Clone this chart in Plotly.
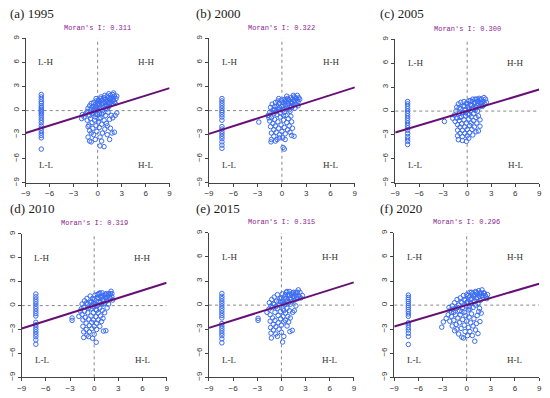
import plotly.graph_objects as go

# ---------------- data ----------------
years = ["1995", "2000", "2005", "2010", "2015", "2020"]
letters = ["a", "b", "c", "d", "e", "f"]
morans_i = [0.311, 0.322, 0.300, 0.319, 0.315, 0.296]
tick_vals = [-9, -6, -3, 0, 3, 6, 9]
quad_labels = ["L-H", "H-H", "L-L", "H-L"]
quad_x = [-6.5, 6.0, -6.5, 6.0]
quad_y = [6.0, 6.0, -6.8, -6.8]

# x position of the vertical column of isolated low-value units, per panel
column_x = [-7.05, -7.4, -7.45, -7.25, -7.4, -7.25]

column_y_1995 = [2.0, 1.7, 1.4, 1.1, 0.9, 0.6, 0.4, 0.2, 0.0, -0.2, -0.4, -0.6, -0.9, -1.2,
                 -1.5, -1.9, -2.2, -2.5, -2.8, -3.1, -3.4, -4.8]
column_y_2000 = [1.5, 1.2, 0.9, 0.6, 0.3, 0.0, -0.2, -0.5, -0.8, -1.2, -2.0, -2.3, -2.6, -2.9,
                 -3.2, -3.5, -3.9, -4.3, -4.7]
column_y_2005 = [1.2, 0.9, 0.6, 0.3, 0.0, -0.3, -0.6, -0.9, -1.2, -1.5, -1.8, -2.1, -2.4, -2.8,
                 -3.2, -3.5, -3.8, -4.2]
column_y_2010 = [1.45, 1.1, 0.8, 0.5, 0.2, -0.1, -0.4, -0.7, -1.0, -1.3, -2.1, -2.4, -2.7, -3.0,
                 -3.3, -3.6, -3.9, -4.3, -4.85]
column_y_2015 = [1.45, 1.1, 0.8, 0.5, 0.2, -0.1, -0.4, -0.7, -1.0, -1.3, -1.6, -2.3, -2.6, -2.9,
                 -3.2, -3.5, -3.8, -4.2, -4.7]
column_y_2020 = [1.25, 0.95, 0.7, 0.45, 0.2, -0.05, -0.3, -0.55, -0.8, -1.1, -1.4, -2.2, -2.5,
                 -2.8, -3.1, -3.5, -3.9, -4.9]

cloud_1995 = [(-1.5, -0.4), (-1.3, -0.1), (-1.2, 0.3), (-1.0, 0.6), (-1.0, -0.6), (-0.8, 0.2), (-0.8, 0.9),
              (-0.6, 0.5), (-0.6, -0.3), (-0.5, 1.0), (-0.4, 0.2), (-0.3, 0.7), (-0.2, 1.2), (-0.1, 0.4),
              (0.0, 0.9), (0.1, 1.3), (0.2, 0.6), (0.3, 1.1), (0.4, 1.5), (0.5, 0.8), (0.6, 1.3), (0.7, 0.4),
              (0.8, 1.6), (0.9, 1.0), (1.0, 1.4), (1.1, 0.7), (1.2, 1.8), (1.3, 1.2), (1.4, 0.9), (1.5, 1.5),
              (1.6, 1.9), (1.7, 1.1), (1.8, 1.6), (1.9, 2.0), (2.0, 1.3), (2.1, 1.8), (2.2, 0.9), (2.3, 1.5),
              (2.0, 2.2), (1.4, 2.1), (0.9, 1.9), (0.4, 1.7), (-0.2, 1.5), (-1.7, -0.8), (-2.0, -1.0),
              (-1.9, -0.5), (-1.3, -1.2), (-1.1, -1.8), (-1.0, -2.5), (-0.9, -1.0), (-0.7, -1.5), (-0.6, -2.2),
              (-0.5, -3.0), (-0.4, -1.2), (-0.3, -0.8), (-0.2, -1.9), (-0.1, -2.6), (0.0, -0.5), (0.1, -1.4),
              (0.2, -2.1), (0.3, -3.3), (0.4, -0.9), (0.5, -1.7), (0.6, -2.8), (0.7, -0.3), (0.8, -1.2),
              (0.9, -2.3), (1.0, -0.6), (1.1, -1.6), (1.2, -3.0), (1.3, -0.2), (1.5, -1.1), (1.7, -0.6),
              (1.9, -0.9), (2.2, -0.6), (2.4, -0.3), (1.6, -2.2), (1.8, -2.8), (2.1, -2.7), (1.5, -3.6),
              (0.8, -4.5), (0.3, -4.4), (-0.8, -3.9), (-1.2, -3.3), (-1.0, -3.8), (-0.3, -3.6), (0.5, -3.8),
              (-0.7, -0.4), (0.0, 0.1), (0.6, 0.0), (1.0, 0.3), (1.4, 0.5), (-1.2, -2.0), (-0.8, -2.8),
              (0.2, -1.0), (1.2, -1.9)]
band_1995 = [(-0.9, -0.2), (-0.5, 0.0), (-0.3, 0.4), (0.1, 0.8), (0.3, 0.3), (0.5, 1.3), (0.7, 0.9),
             (0.9, 0.6), (1.1, 1.2), (1.3, 1.6), (1.5, 0.9), (1.7, 1.5), (1.9, 1.3), (2.1, 1.1), (0.2, -0.3),
             (0.5, -0.4), (-0.2, -0.5), (1.2, 0.2), (1.8, 0.9), (2.4, 1.8)]

cloud_2000 = [(-1.7, -0.6), (-1.5, -0.2), (-1.4, 0.4), (-1.3, -0.9), (-1.2, 0.8), (-1.1, 0.1), (-1.0, -0.4),
              (-0.9, 0.5), (-0.8, 1.0), (-0.7, -0.1), (-0.6, 0.6), (-0.5, 1.2), (-0.4, 0.2), (-0.3, 0.9),
              (-0.2, -0.3), (-0.1, 1.3), (0.0, 0.5), (0.1, 1.0), (0.2, 0.1), (0.3, 1.4), (0.4, 0.7), (0.5, 1.1),
              (0.6, 0.3), (0.7, 1.5), (0.8, 0.9), (0.9, 1.3), (1.0, 0.5), (1.1, 1.6), (1.2, 1.0), (1.3, 1.4),
              (1.4, 0.7), (1.5, 1.7), (1.6, 1.2), (1.7, 0.8), (1.8, 1.5), (1.9, 1.9), (2.0, 1.1), (2.1, 1.6),
              (1.4, 1.9), (0.6, 1.8), (-0.4, 1.5), (1.0, -0.1), (1.6, 0.3), (-1.5, -1.3), (-1.4, -2.0),
              (-1.3, -2.8), (-1.3, -3.6), (-1.35, -3.9), (-1.1, -1.6), (-1.0, -2.4), (-1.0, -3.2), (-0.9, -1.1),
              (-0.8, -1.9), (-0.7, -2.7), (-0.6, -3.6), (-0.5, -1.4), (-0.4, -2.2), (-0.3, -3.0), (-0.2, -0.8),
              (-0.1, -1.8), (0.0, -2.6), (0.1, -3.4), (0.15, -4.6), (0.3, -4.8), (0.2, -1.2), (0.3, -2.1),
              (0.4, -2.9), (0.5, -0.6), (0.6, -1.5), (0.7, -2.4), (0.8, -1.0), (0.9, -1.9), (1.0, -2.7),
              (1.1, -0.7), (1.2, -1.4), (1.3, -2.2), (1.2, -3.1), (1.5, -3.2), (-0.8, -3.8), (-0.3, -3.4),
              (-1.6, -0.9), (0.4, -3.6), (-2.85, -1.43)]
band_2000 = [(-0.9, 0.1), (-0.6, -0.5), (-0.3, 0.4), (0.1, 0.7), (0.3, -0.2), (0.5, 1.4), (0.7, 0.6),
             (0.9, 0.1), (1.1, 1.1), (1.3, 0.9), (1.5, 1.2), (1.7, 1.6), (1.9, 1.3), (2.0, 0.6), (0.2, -0.6),
             (-1.2, -0.2), (1.2, 0.4), (0.4, 1.2), (-0.1, 0.1), (2.2, 1.4)]

cloud_2005 = [(-1.8, -0.9), (-1.6, -0.5), (-1.5, -1.3), (-1.4, 0.0), (-1.3, 0.5), (-1.3, -0.9), (-1.2, -1.7),
              (-1.2, -2.4), (-1.2, -3.1), (-1.1, -3.6), (-1.1, 0.9), (-1.0, -0.3), (-1.0, -1.2), (-0.9, -2.0),
              (-0.9, -2.8), (-0.8, 0.3), (-0.8, 1.1), (-0.7, -0.7), (-0.7, -1.6), (-0.6, -2.4), (-0.6, -3.2),
              (-0.5, 0.6), (-0.5, -0.2), (-0.4, 1.2), (-0.4, -1.1), (-0.3, -2.0), (-0.3, -2.8), (-0.2, 0.2),
              (-0.2, -0.6), (-0.1, 1.0), (-0.1, -1.5), (-0.1, -3.8), (0.0, -2.3), (0.0, -3.1), (0.1, 0.5),
              (0.1, -0.4), (0.2, 1.3), (0.2, -1.0), (0.3, -1.8), (0.3, -2.7), (0.4, 0.0), (0.4, 0.8),
              (0.5, -0.7), (0.5, -1.5), (0.6, 1.2), (0.6, -2.3), (0.7, 0.4), (0.7, -3.0), (0.8, -0.3),
              (0.8, -1.2), (0.9, 1.0), (0.9, -2.0), (1.0, 0.1), (1.0, 1.5), (1.1, -0.8), (1.1, -2.6),
              (1.2, 0.7), (1.2, -1.5), (1.3, 1.2), (1.3, 0.0), (1.4, -0.6), (1.5, 1.6), (1.5, 0.5),
              (1.6, -1.1), (1.7, 1.0), (1.8, 1.5), (1.9, 0.6), (2.0, 1.2), (2.1, 1.7), (2.2, 0.9), (2.4, 1.1),
              (1.6, -1.9), (1.4, -2.5), (-0.6, -3.7), (0.2, -3.4), (-2.85, -1.3)]
band_2005 = [(-1.0, 0.4), (-0.6, -0.2), (-0.3, 0.6), (0.0, 0.9), (0.2, 0.2), (0.4, 1.3), (0.6, 0.7),
             (0.8, 0.3), (1.0, 1.1), (1.2, 1.5), (1.4, 0.9), (1.6, 1.4), (1.8, 1.0), (2.0, 0.7), (0.3, -0.4),
             (-0.9, -0.8), (1.1, 0.4), (0.7, 1.5), (-0.2, -0.2), (2.3, 1.5)]

cloud_2010 = [(-1.6, -0.4), (-1.5, 0.2), (-1.5, -1.1), (-1.4, -1.8), (-1.4, -2.6), (-1.3, -3.3), (-1.3, -4.0),
              (-1.2, 0.6), (-1.2, -0.7), (-1.1, -1.5), (-1.0, -2.2), (-1.0, -3.0), (-0.9, -3.7), (-0.9, 0.9),
              (-0.8, 0.2), (-0.8, -0.9), (-0.7, -1.7), (-0.6, -2.5), (-0.6, -3.3), (-0.5, 1.2), (-0.5, 0.4),
              (-0.4, -0.4), (-0.4, -1.3), (-0.3, -2.1), (-0.3, -2.9), (-0.2, 0.9), (-0.2, -0.1), (-0.1, -0.9),
              (-0.1, -1.8), (0.0, -2.6), (0.0, -3.6), (0.1, 1.3), (0.1, 0.3), (0.2, -0.5), (0.2, -1.4),
              (0.25, -4.6), (0.3, -2.2), (0.3, -3.0), (0.4, 1.0), (0.4, 0.0), (0.5, -0.9), (0.5, -1.8),
              (0.6, 1.5), (0.6, 0.5), (0.7, -2.6), (0.7, -0.3), (0.8, 1.1), (0.8, -1.3), (0.9, 0.2),
              (0.9, -2.0), (1.0, 1.6), (1.0, -0.6), (1.1, 0.8), (1.1, -1.6), (1.15, -3.2), (1.2, 1.3),
              (1.3, 0.3), (1.3, -0.9), (1.4, 1.0), (1.45, -3.15), (1.5, 1.5), (1.6, 0.6), (1.7, 1.2),
              (1.8, 0.2), (1.9, 1.0), (2.0, 1.5), (2.1, 1.8), (2.2, 1.1), (2.3, 0.7), (1.6, -0.3),
              (-0.2, -4.1), (-0.7, -3.9), (-2.75, -1.55), (-2.75, -1.85), (-1.9, -1.35), (-1.7, -0.7)]
band_2010 = [(-1.0, 0.3), (-0.7, -0.3), (-0.3, 0.5), (0.0, 0.8), (0.2, 0.1), (0.4, 1.4), (0.6, 0.9),
             (0.8, 0.4), (1.0, 1.1), (1.2, 0.6), (1.4, 1.4), (1.6, 1.0), (1.8, 1.5), (2.0, 0.9), (0.3, -0.6),
             (-1.3, -0.2), (1.1, 0.2), (0.7, 1.6), (-0.1, 0.3), (2.2, 1.5)]

cloud_2015 = [(-1.55, -0.5), (-1.5, 0.3), (-1.4, -1.2), (-1.4, -2.0), (-1.35, -2.8), (-1.3, -3.5),
              (-1.25, -4.1), (-1.2, 0.7), (-1.1, -0.3), (-1.1, -1.6), (-1.0, -2.4), (-1.0, -3.1), (-0.9, 1.0),
              (-0.9, 0.1), (-0.8, -0.9), (-0.8, -1.9), (-0.7, -2.7), (-0.7, -3.6), (-0.6, 0.5), (-0.5, 1.3),
              (-0.5, -0.4), (-0.4, -1.3), (-0.4, -2.2), (-0.3, -3.0), (-0.2, 0.8), (-0.2, 0.0), (-0.1, -0.8),
              (-0.1, -1.7), (0.0, -2.5), (0.0, -3.4), (0.1, 1.4), (0.1, 0.4), (0.15, -4.6), (0.2, -0.5),
              (0.2, -1.4), (0.3, -2.1), (0.3, -3.9), (0.4, 1.0), (0.4, 0.1), (0.5, -1.0), (0.5, -1.9),
              (0.6, 1.6), (0.6, 0.5), (0.7, -0.4), (0.7, -2.6), (0.8, 1.2), (0.8, -1.4), (0.9, 0.3),
              (0.9, -2.1), (1.0, 1.7), (1.0, -0.7), (1.05, -3.3), (1.1, 0.9), (1.1, -1.6), (1.2, 1.4),
              (1.3, 0.4), (1.35, -3.15), (1.4, 1.1), (1.4, -0.9), (1.5, 1.6), (1.6, 0.6), (1.7, 1.3),
              (1.8, -0.1), (1.9, 1.0), (2.0, 1.6), (2.1, 1.9), (2.2, 1.1), (2.4, 0.9), (2.6, 1.2),
              (1.6, -0.7), (-0.5, -3.9), (-2.9, -1.65), (-2.9, -1.9), (-1.8, -0.9)]
band_2015 = [(-1.0, 0.2), (-0.7, -0.2), (-0.3, 0.5), (0.0, 0.9), (0.3, 0.2), (0.5, 1.3), (0.6, 0.8),
             (0.8, 0.5), (1.0, 1.2), (1.2, 0.7), (1.4, 1.5), (1.6, 1.0), (1.8, 1.6), (2.0, 0.8), (0.3, -0.7),
             (-1.3, -0.1), (1.1, 0.1), (0.7, 1.7), (-0.1, 0.4), (2.3, 1.6)]

cloud_2020 = [(-2.2, -0.3), (-2.0, -0.6), (-1.8, -0.1), (-1.6, -0.9), (-1.5, 0.3), (-1.3, -0.4), (-1.2, 0.7),
              (-1.0, 0.0), (-0.9, -0.7), (-0.8, 0.9), (-0.6, 0.3), (-0.5, -0.3), (-0.4, 1.2), (-0.2, 0.6),
              (-0.1, -0.1), (0.0, 1.3), (0.1, 0.4), (0.2, -0.6), (0.3, 1.0), (0.4, 1.6), (0.5, 0.2),
              (0.6, 0.8), (0.7, 1.4), (0.8, -0.3), (0.9, 1.1), (1.0, 0.5), (1.1, 1.7), (1.2, 0.9), (1.3, 1.4),
              (1.4, 0.2), (1.5, 1.8), (1.6, 1.1), (1.7, 0.6), (1.8, 1.5), (1.9, 1.9), (2.0, 1.0), (2.1, 1.5),
              (2.3, 1.2), (2.5, 0.8), (2.6, 1.3), (1.6, -0.4), (-3.1, -2.75), (-2.9, -2.1), (-2.55, -1.65),
              (-2.3, -1.2), (-2.1, -2.0), (-1.9, -1.4), (-1.8, -2.6), (-1.6, -1.9), (-1.5, -3.2), (-1.4, -1.2),
              (-1.3, -2.4), (-1.2, -3.0), (-1.1, -1.6), (-1.0, -3.6), (-0.9, -2.2), (-0.8, -1.2), (-0.7, -2.9),
              (-0.6, -4.0), (-0.5, -1.8), (-0.4, -4.1), (-0.3, -2.5), (-0.2, -3.3), (-0.1, -1.3), (0.0, -2.0),
              (0.1, -3.8), (0.2, -2.8), (0.3, -1.5), (0.4, -3.3), (0.5, -2.2), (0.6, -1.1), (0.7, -3.8),
              (0.8, -2.6), (0.9, -1.7), (1.0, -4.5), (1.1, -3.1), (1.2, -2.3), (1.3, -1.3), (1.4, -3.55),
              (1.5, -0.8), (1.65, -2.05), (1.8, -1.0), (-0.3, -0.9), (0.3, -0.2)]
band_2020 = [(-1.7, -0.5), (-1.1, -0.3), (-0.7, 0.4), (-0.3, 0.7), (0.0, 0.3), (0.2, 1.2), (0.5, 0.7),
             (0.8, 0.4), (1.0, 1.3), (1.2, 1.6), (1.4, 0.9), (1.6, 1.5), (1.9, 1.2), (2.2, 1.5), (0.4, -0.5),
             (-0.6, -0.8), (1.1, 0.0), (0.6, 1.6), (-1.9, -0.9), (2.4, 1.0)]

clouds = [cloud_1995, cloud_2000, cloud_2005, cloud_2010, cloud_2015, cloud_2020]
bands = [band_1995, band_2000, band_2005, band_2010, band_2015, band_2020]
columns = [column_y_1995, column_y_2000, column_y_2005, column_y_2010, column_y_2015, column_y_2020]

# ---------------- layout geometry (pixels) ----------------
W, H = 550, 398
# left, right, top, bottom of each plot area
boxes = [(21, 167, 35, 182), (207, 355, 35, 182), (396, 542, 36, 182),
         (17, 164, 234, 380), (207, 354, 233, 380), (395, 542, 233, 380)]
title_pos = [(3, 10), (192, 10), (379, 10), (3, 208), (192, 208), (378, 208)]

POINT = "#3b6cf2"
LINE = "#660f75"
AX = "#444444"

fig = go.Figure()
layout = dict(width=W, height=H, margin=dict(l=0, r=0, t=0, b=0),
              paper_bgcolor="white", plot_bgcolor="white", showlegend=False)
annotations = []
shapes = []

for i in range(6):
    n = "" if i == 0 else str(i + 1)
    xr, yr = "x" + n, "y" + n
    l, r, t, b = boxes[i]
    layout["xaxis" + n] = dict(domain=[l / W, r / W], range=[-9, 9], anchor=yr,
                               tickvals=tick_vals, ticks="outside", ticklen=3, tickcolor=AX,
                               showline=True, linecolor=AX, linewidth=1, showgrid=False,
                               zeroline=False, tickfont=dict(size=8, color="#333",
                                                             family="Liberation Sans"))
    layout["yaxis" + n] = dict(domain=[1 - b / H, 1 - t / H], range=[-9, 9], anchor=xr,
                               tickvals=tick_vals, ticks="outside", ticklen=3, tickcolor=AX,
                               showline=True, linecolor=AX, linewidth=1, showgrid=False,
                               zeroline=False, tickangle=-90,
                               tickfont=dict(size=8, color="#333", family="Liberation Sans"))
    # dotted reference lines
    shapes.append(dict(type="line", xref=xr, yref=yr, x0=0, x1=0, y0=-9, y1=9,
                       line=dict(color="#888", width=1, dash="dot"), layer="below"))
    shapes.append(dict(type="line", xref=xr, yref=yr, x0=-9, x1=9, y0=0, y1=0,
                       line=dict(color="#888", width=1, dash="dot"), layer="below"))
    pts = clouds[i] + bands[i]
    cx = [p[0] for p in pts] + [column_x[i]] * len(columns[i])
    cy = [p[1] for p in pts] + columns[i]
    fig.add_trace(go.Scatter(x=cx, y=cy, mode="markers", xaxis=xr, yaxis=yr,
                             marker=dict(symbol="circle-open", size=4.5, color=POINT,
                                         line=dict(width=1, color=POINT))))
    fig.add_trace(go.Scatter(x=[-9, 9], y=[-9 * morans_i[i], 9 * morans_i[i]], mode="lines",
                             xaxis=xr, yaxis=yr, line=dict(color=LINE, width=2)))
    # panel title
    tx, ty = title_pos[i]
    annotations.append(dict(x=tx / W, y=1 - ty / H, xref="paper", yref="paper",
                            text=f"({letters[i]}) {years[i]}", showarrow=False,
                            xanchor="left", yanchor="middle",
                            font=dict(family="Liberation Serif", size=13, color="#1a1a1a")))
    # Moran's I
    annotations.append(dict(x=(l + r) / 2 / W, y=1 - (t - 11) / H, xref="paper", yref="paper",
                            text=f"Moran's I: {morans_i[i]:.3f}", showarrow=False,
                            xanchor="center", yanchor="middle",
                            font=dict(family="Liberation Mono", size=7, color="#8a1f8f")))
    for q in range(4):
        annotations.append(dict(x=quad_x[q], y=quad_y[q], xref=xr, yref=yr, text=quad_labels[q],
                                showarrow=False, xanchor="center", yanchor="middle",
                                font=dict(family="Liberation Serif", size=9, color="#333")))

layout["annotations"] = annotations
layout["shapes"] = shapes
fig.update_layout(**layout)
fig.write_html("out.html", config={"displayModeBar": False},
               post_script="document.body.style.margin='0px';document.body.style.overflow='hidden';")
